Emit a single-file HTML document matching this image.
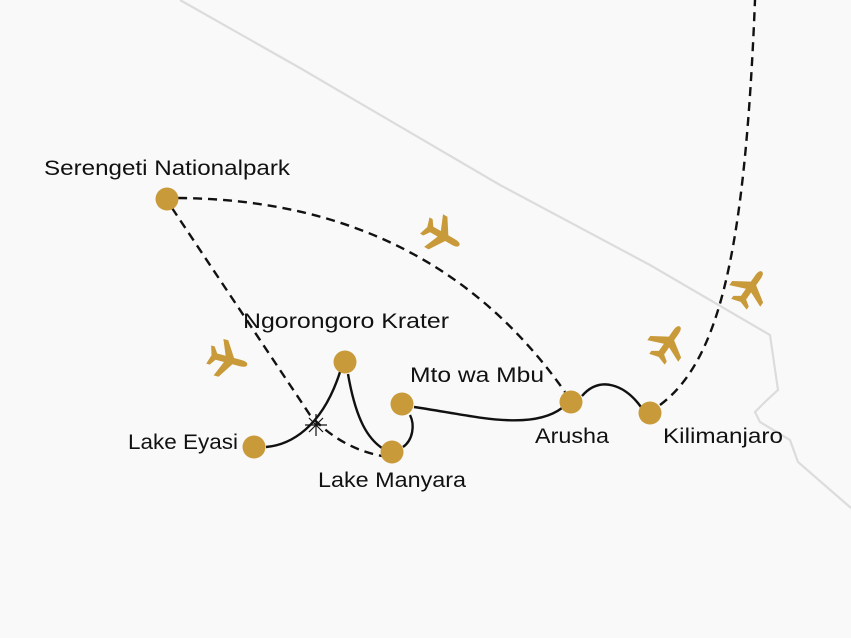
<!DOCTYPE html>
<html><head><style>body{margin:0;background:#f9f9f9}svg{display:block}text{font-family:"Liberation Sans",sans-serif;font-size:21px;fill:#111}</style></head>
<body>
<svg width="851" height="638" viewBox="0 0 851 638" xmlns="http://www.w3.org/2000/svg">
<rect width="851" height="638" fill="#f9f9f9"/>
<defs>
<path id="pl" d="M13,0 C13,-1.6 11,-2.2 8,-2.2 L3,-2.2 L-4,-13 L-7.5,-13 L-3,-2.2 L-9,-2.2 L-12,-6.5 L-14.5,-6.5 L-12.5,0 L-14.5,6.5 L-12,6.5 L-9,2.2 L-3,2.2 L-7.5,13 L-4,13 L3,2.2 L8,2.2 C11,2.2 13,1.6 13,0Z" fill="#c99a3a"/>
</defs>
<polyline points="180,0 300,68 500,185 650,265 770,335 778,390 767,400 755,412 760,422 790,440 798,462 851,508" fill="none" stroke="#dcdcdc" stroke-width="2.2"/>
<g fill="none" stroke="#111" stroke-width="2.4" stroke-dasharray="9,6">
<path d="M178,198 Q430,200 565,392"/>
<path d="M172,208 L310,415 Q340,448 382,456"/>
<path d="M660,405 C720,360 745,250 755,0"/>
</g>
<g fill="none" stroke="#111" stroke-width="2.4">
<path d="M266,447 C290,445 322,428 340,372"/>
<path d="M348,374 C356,420 368,440 385,450"/>
<path d="M403,447 C413,440 415,425 410,415"/>
<path d="M414,407 C470,415 530,432 562,408"/>
<path d="M582,396 C600,375 625,385 641,407"/>
<path d="M309,418 L323,432 M309,432 L323,418 M316,414 L316,436 M305,425 L327,425" stroke-width="1.2"/>
</g>
<g fill="#c99a3a">
<circle cx="167" cy="199" r="11.5"/><circle cx="345" cy="362" r="11.5"/>
<circle cx="402" cy="404" r="11.5"/><circle cx="571" cy="402" r="11.5"/>
<circle cx="650" cy="413" r="11.5"/><circle cx="254" cy="447" r="11.5"/>
<circle cx="392" cy="452" r="11.5"/>
</g>
<use href="#pl" transform="translate(443,236) rotate(30) scale(1.45)"/>
<use href="#pl" transform="translate(229,360) rotate(15) scale(1.45)"/>
<use href="#pl" transform="translate(669,342) rotate(-55) scale(1.45)"/>
<use href="#pl" transform="translate(751,287) rotate(125) scale(-1.45,1.45)"/>
<text x="44" y="175" textLength="246" lengthAdjust="spacingAndGlyphs">Serengeti Nationalpark</text>
<text x="243" y="328" textLength="206" lengthAdjust="spacingAndGlyphs">Ngorongoro Krater</text>
<text x="410" y="382" textLength="134" lengthAdjust="spacingAndGlyphs">Mto wa Mbu</text>
<text x="128" y="449" textLength="110" lengthAdjust="spacingAndGlyphs">Lake Eyasi</text>
<text x="318" y="487" textLength="148" lengthAdjust="spacingAndGlyphs">Lake Manyara</text>
<text x="535" y="443" textLength="74" lengthAdjust="spacingAndGlyphs">Arusha</text>
<text x="663" y="443" textLength="120" lengthAdjust="spacingAndGlyphs">Kilimanjaro</text>
</svg>
</body></html>
